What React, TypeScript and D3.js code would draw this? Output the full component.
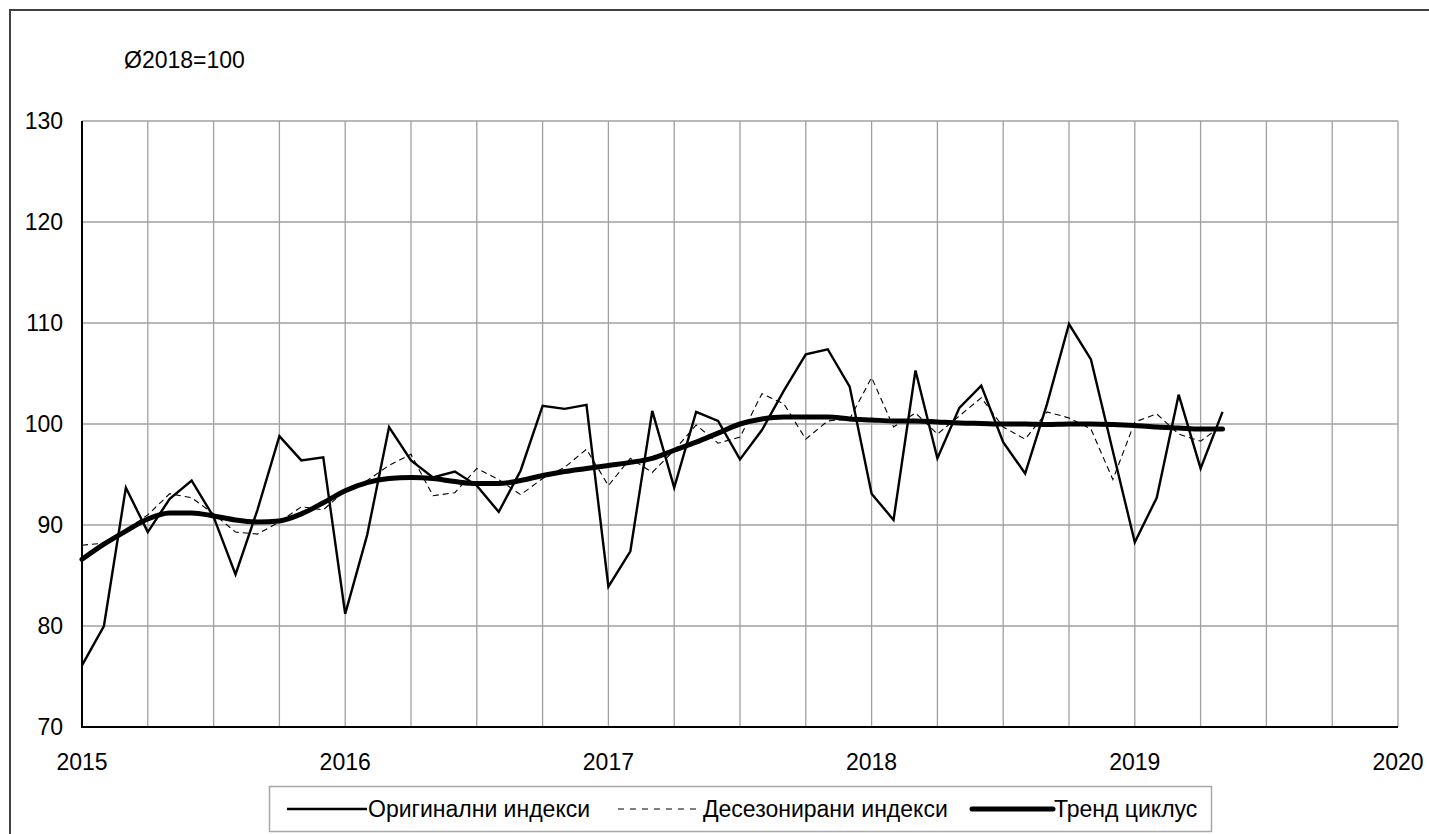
import React, { useEffect, useRef } from 'react';
import * as d3 from 'd3';

// monthly values, Jan 2015 - May 2019
const years = [2015, 2016, 2017, 2018, 2019, 2020];
const yTicks = [70, 80, 90, 100, 110, 120, 130];

const original = [
  76.1, 80.0, 93.7, 89.3, 92.6, 94.4, 90.8, 85.1, 91.5, 98.8, 96.4, 96.7,
  81.2, 89.0, 99.7, 96.4, 94.7, 95.3, 93.9, 91.3, 95.4, 101.8, 101.5, 101.9,
  83.9, 87.4, 101.3, 93.7, 101.2, 100.3, 96.5, 99.4, 103.3, 106.9, 107.4, 103.7,
  93.1, 90.5, 105.3, 96.6, 101.6, 103.8, 98.2, 95.1, 102.0, 109.9, 106.4, 97.3,
  88.3, 92.7, 102.9, 95.6, 101.2,
];

const deseasonal = [
  88.0, 88.2, 89.5, 91.0, 93.1, 92.7, 91.1, 89.3, 89.1, 90.3, 91.8, 91.5,
  93.4, 94.4, 95.9, 97.0, 92.9, 93.2, 95.6, 94.5, 93.0, 94.6, 95.7, 97.5,
  93.9, 96.6, 95.2, 97.4, 99.9, 98.1, 98.7, 103.0, 102.0, 98.5, 100.3, 100.5,
  104.6, 99.7, 101.1, 99.0, 100.8, 102.6, 99.7, 98.5, 101.2, 100.6, 99.5, 94.5,
  100.2, 101.0, 99.0, 98.3, 99.9,
];

const trend = [
  86.6, 88.1, 89.4, 90.6, 91.2, 91.2, 90.9, 90.5, 90.3, 90.4, 91.1, 92.2,
  93.4, 94.2, 94.6, 94.7, 94.6, 94.3, 94.1, 94.1, 94.4, 94.9, 95.3, 95.6,
  95.9, 96.2, 96.6, 97.4, 98.2, 99.1, 100.0, 100.5, 100.7, 100.7, 100.7, 100.5,
  100.4, 100.3, 100.3, 100.2, 100.1, 100.05, 100.0, 100.0, 99.95, 100.0, 100.0, 99.95,
  99.85, 99.7, 99.6, 99.5, 99.5,
];

const legendLabels = ['Оригинални индекси', 'Десезонирани индекси', 'Тренд циклус'];

const W = 1429, H = 834;
const FONT = 'Arial, "Liberation Sans", sans-serif';
const FS = 23;

export default function App() {
  const ref = useRef<SVGSVGElement>(null);

  useEffect(() => {
    const svg = d3.select(ref.current);
    svg.selectAll('*').remove();

    const left = 82, right = 1398, top = 121, bottom = 727;

    const x = d3.scaleLinear().domain([0, 60]).range([left, right]);
    const y = d3.scaleLinear().domain([70, 130]).range([bottom, top]);

    svg.append('rect')
      .attr('width', W).attr('height', H).attr('fill', '#fff');

    // outer chart frame
    svg.append('rect')
      .attr('x', 10).attr('y', 10)
      .attr('width', W + 20).attr('height', H + 20)
      .attr('fill', 'none').attr('stroke', '#404040').attr('stroke-width', 2);

    // grid
    const grid = svg.append('g').attr('stroke', '#a0a0a0').attr('stroke-width', 1.3);
    grid.selectAll('.vg')
      .data(d3.range(3, 61, 3))
      .enter().append('line')
      .attr('x1', d => x(d)).attr('x2', d => x(d))
      .attr('y1', top).attr('y2', bottom);
    grid.selectAll('.hg')
      .data(yTicks.slice(1))
      .enter().append('line')
      .attr('x1', left).attr('x2', right)
      .attr('y1', d => y(d)).attr('y2', d => y(d));

    // axes
    svg.append('line')
      .attr('x1', left).attr('x2', left).attr('y1', top).attr('y2', bottom + 1)
      .attr('stroke', '#000').attr('stroke-width', 2);
    svg.append('line')
      .attr('x1', left - 1).attr('x2', right).attr('y1', bottom).attr('y2', bottom)
      .attr('stroke', '#000').attr('stroke-width', 2);

    svg.append('g')
      .selectAll('text')
      .data(yTicks)
      .enter().append('text')
      .attr('x', 63).attr('y', d => y(d))
      .attr('dy', '0.35em')
      .attr('text-anchor', 'end')
      .attr('font-family', FONT).attr('font-size', FS)
      .text(d => d);

    svg.append('g')
      .selectAll('text')
      .data(years)
      .enter().append('text')
      .attr('x', (d, i) => x(i * 12)).attr('y', 762)
      .attr('dy', '0.35em')
      .attr('text-anchor', 'middle')
      .attr('font-family', FONT).attr('font-size', FS)
      .text(d => d);

    svg.append('text')
      .attr('x', 124).attr('y', 60).attr('dy', '0.35em')
      .attr('font-family', FONT).attr('font-size', FS)
      .text('Ø2018=100');

    const line = d3.line<number>()
      .x((d, i) => x(i))
      .y(d => y(d));

    svg.append('path')
      .datum(deseasonal)
      .attr('d', line)
      .attr('fill', 'none').attr('stroke', '#000')
      .attr('stroke-width', 1.1).attr('stroke-dasharray', '6,4');

    svg.append('path')
      .datum(original)
      .attr('d', line)
      .attr('fill', 'none').attr('stroke', '#000')
      .attr('stroke-width', 2.4).attr('stroke-linejoin', 'miter');

    svg.append('path')
      .datum(trend)
      .attr('d', line.curve(d3.curveMonotoneX))
      .attr('fill', 'none').attr('stroke', '#000')
      .attr('stroke-width', 5).attr('stroke-linecap', 'round');

    // legend
    const lg = svg.append('g');
    lg.append('rect')
      .attr('x', 269.5).attr('y', 786.5).attr('width', 942).attr('height', 45)
      .attr('fill', '#fff').attr('stroke', '#a8a8a8').attr('stroke-width', 1.5);

    const items = [
      { x1: 287, x2: 367, w: 2.4, dash: null },
      { x1: 618, x2: 702, w: 1.1, dash: '6,6' },
      { x1: 972, x2: 1053, w: 5, dash: null },
    ];
    const ly = 809;
    items.forEach((it, i) => {
      lg.append('line')
        .attr('x1', it.x1).attr('x2', it.x2).attr('y1', ly).attr('y2', ly)
        .attr('stroke', '#000').attr('stroke-width', it.w)
        .attr('stroke-linecap', i === 2 ? 'round' : 'butt')
        .attr('stroke-dasharray', it.dash);
      lg.append('text')
        .attr('x', it.x2 + 1).attr('y', ly).attr('dy', '0.35em')
        .attr('font-family', FONT).attr('font-size', FS)
        .text(legendLabels[i]);
    });
  }, []);

  return (
    <svg
      ref={ref}
      width={W}
      height={H}
      style={{ position: 'absolute', left: 0, top: 0, display: 'block' }}
    />
  );
}
